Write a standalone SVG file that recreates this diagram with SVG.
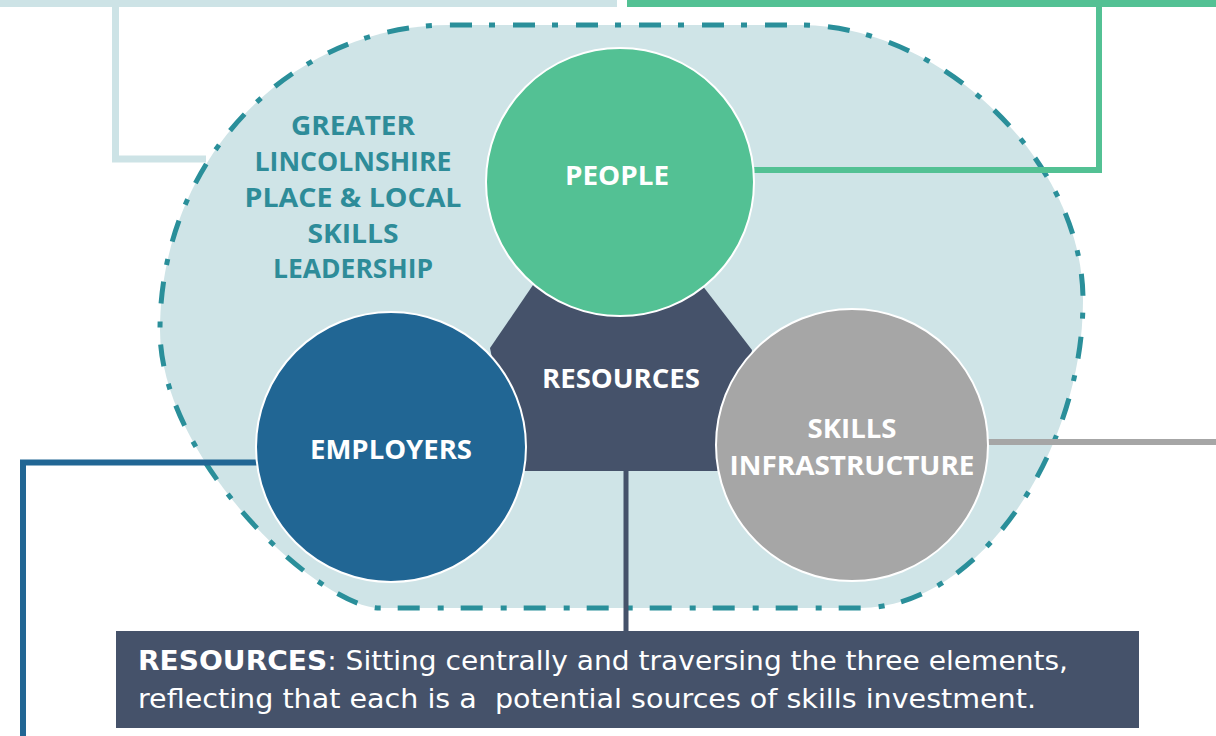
<svg xmlns="http://www.w3.org/2000/svg" width="1216" height="736" viewBox="0 0 1216 736">
  <style>
    .lbl { font-family: "Open Sans", "Liberation Sans", sans-serif; font-weight: 700; fill: #ffffff; text-anchor: middle; }
    .region { font-family: "Open Sans", "Liberation Sans", sans-serif; font-weight: 700; fill: #2e8c99; font-size: 26px; text-anchor: middle; }
    .body { font-family: "DejaVu Sans", "Liberation Sans", sans-serif; fill: #ffffff; font-size: 26px; }
    .node-circle { stroke: #ffffff; stroke-width: 2; }
  </style>

  <rect width="1216" height="736" fill="#ffffff"/>

  <!-- leadership boundary -->
  <g id="boundary">
    <path d="M450,25 L800,25 C940,25 1083,160 1083,300 C1083,450 980,608 860,608 L380,608 C320,608 160,460 160,330 C160,160 290,25 450,25 Z"
          fill="#cfe4e7" stroke="#2a8f9a" stroke-width="5" stroke-dasharray="22 17 6 18"/>
  </g>

  <!-- connectors -->
  <g id="connectors" fill="none" stroke-linecap="butt">
    <rect x="0" y="0" width="617" height="7" fill="#cde3e6" stroke="none"/>
    <polyline points="115.5,7 115.5,159 206,159" stroke="#cde3e6" stroke-width="7"/>
    <rect x="627" y="0" width="589" height="7" fill="#53c194" stroke="none"/>
    <polyline points="1099,7 1099,170 740,170" stroke="#53c194" stroke-width="6"/>
    <line x1="970" y1="442" x2="1216" y2="442" stroke="#a6a6a6" stroke-width="6"/>
    <polyline points="280,462.5 23,462.5 23,736" stroke="#216694" stroke-width="6"/>
    <line x1="626" y1="460" x2="626" y2="632" stroke="#45526a" stroke-width="5"/>
  </g>

  <!-- resources core -->
  <g id="resources">
    <polygon points="533,285 702,285 752,350 730,471 515,471 490,348" fill="#45526a"/>
    <text class="lbl" x="621" y="388" font-size="26" textLength="158" lengthAdjust="spacingAndGlyphs">RESOURCES</text>
  </g>

  <g id="people">
    <circle class="node-circle" cx="620" cy="182" r="134" fill="#53c194"/>
    <text class="lbl" x="617" y="185" font-size="26" textLength="104" lengthAdjust="spacingAndGlyphs">PEOPLE</text>
  </g>

  <g id="employers">
    <circle class="node-circle" cx="391" cy="447" r="135" fill="#216694"/>
    <text class="lbl" x="391" y="459" font-size="26" textLength="162" lengthAdjust="spacingAndGlyphs">EMPLOYERS</text>
  </g>

  <g id="skills-infrastructure">
    <circle class="node-circle" cx="852" cy="445" r="136" fill="#a6a6a6"/>
    <text class="lbl" x="852" y="438" font-size="26" textLength="89" lengthAdjust="spacingAndGlyphs">SKILLS</text>
    <text class="lbl" x="852" y="475" font-size="26" textLength="245" lengthAdjust="spacingAndGlyphs">INFRASTRUCTURE</text>
  </g>

  <g id="leadership-label">
    <text class="region" x="353" y="135" textLength="124" lengthAdjust="spacingAndGlyphs">GREATER</text>
    <text class="region" x="353" y="171" textLength="197" lengthAdjust="spacingAndGlyphs">LINCOLNSHIRE</text>
    <text class="region" x="353" y="207" textLength="217" lengthAdjust="spacingAndGlyphs">PLACE &amp; LOCAL</text>
    <text class="region" x="353" y="243" textLength="91" lengthAdjust="spacingAndGlyphs">SKILLS</text>
    <text class="region" x="353" y="278" textLength="160" lengthAdjust="spacingAndGlyphs">LEADERSHIP</text>
  </g>

  <!-- explanatory note -->
  <g id="resources-note">
    <rect x="116" y="631" width="1023" height="97" fill="#45526a"/>
    <text class="body" x="138" y="670" textLength="930" lengthAdjust="spacingAndGlyphs"><tspan font-weight="700">RESOURCES</tspan>: Sitting centrally and traversing the three elements,</text>
    <text class="body" x="138" y="708" textLength="898" lengthAdjust="spacingAndGlyphs" xml:space="preserve">reflecting that each is a  potential sources of skills investment.</text>
  </g>
</svg>
